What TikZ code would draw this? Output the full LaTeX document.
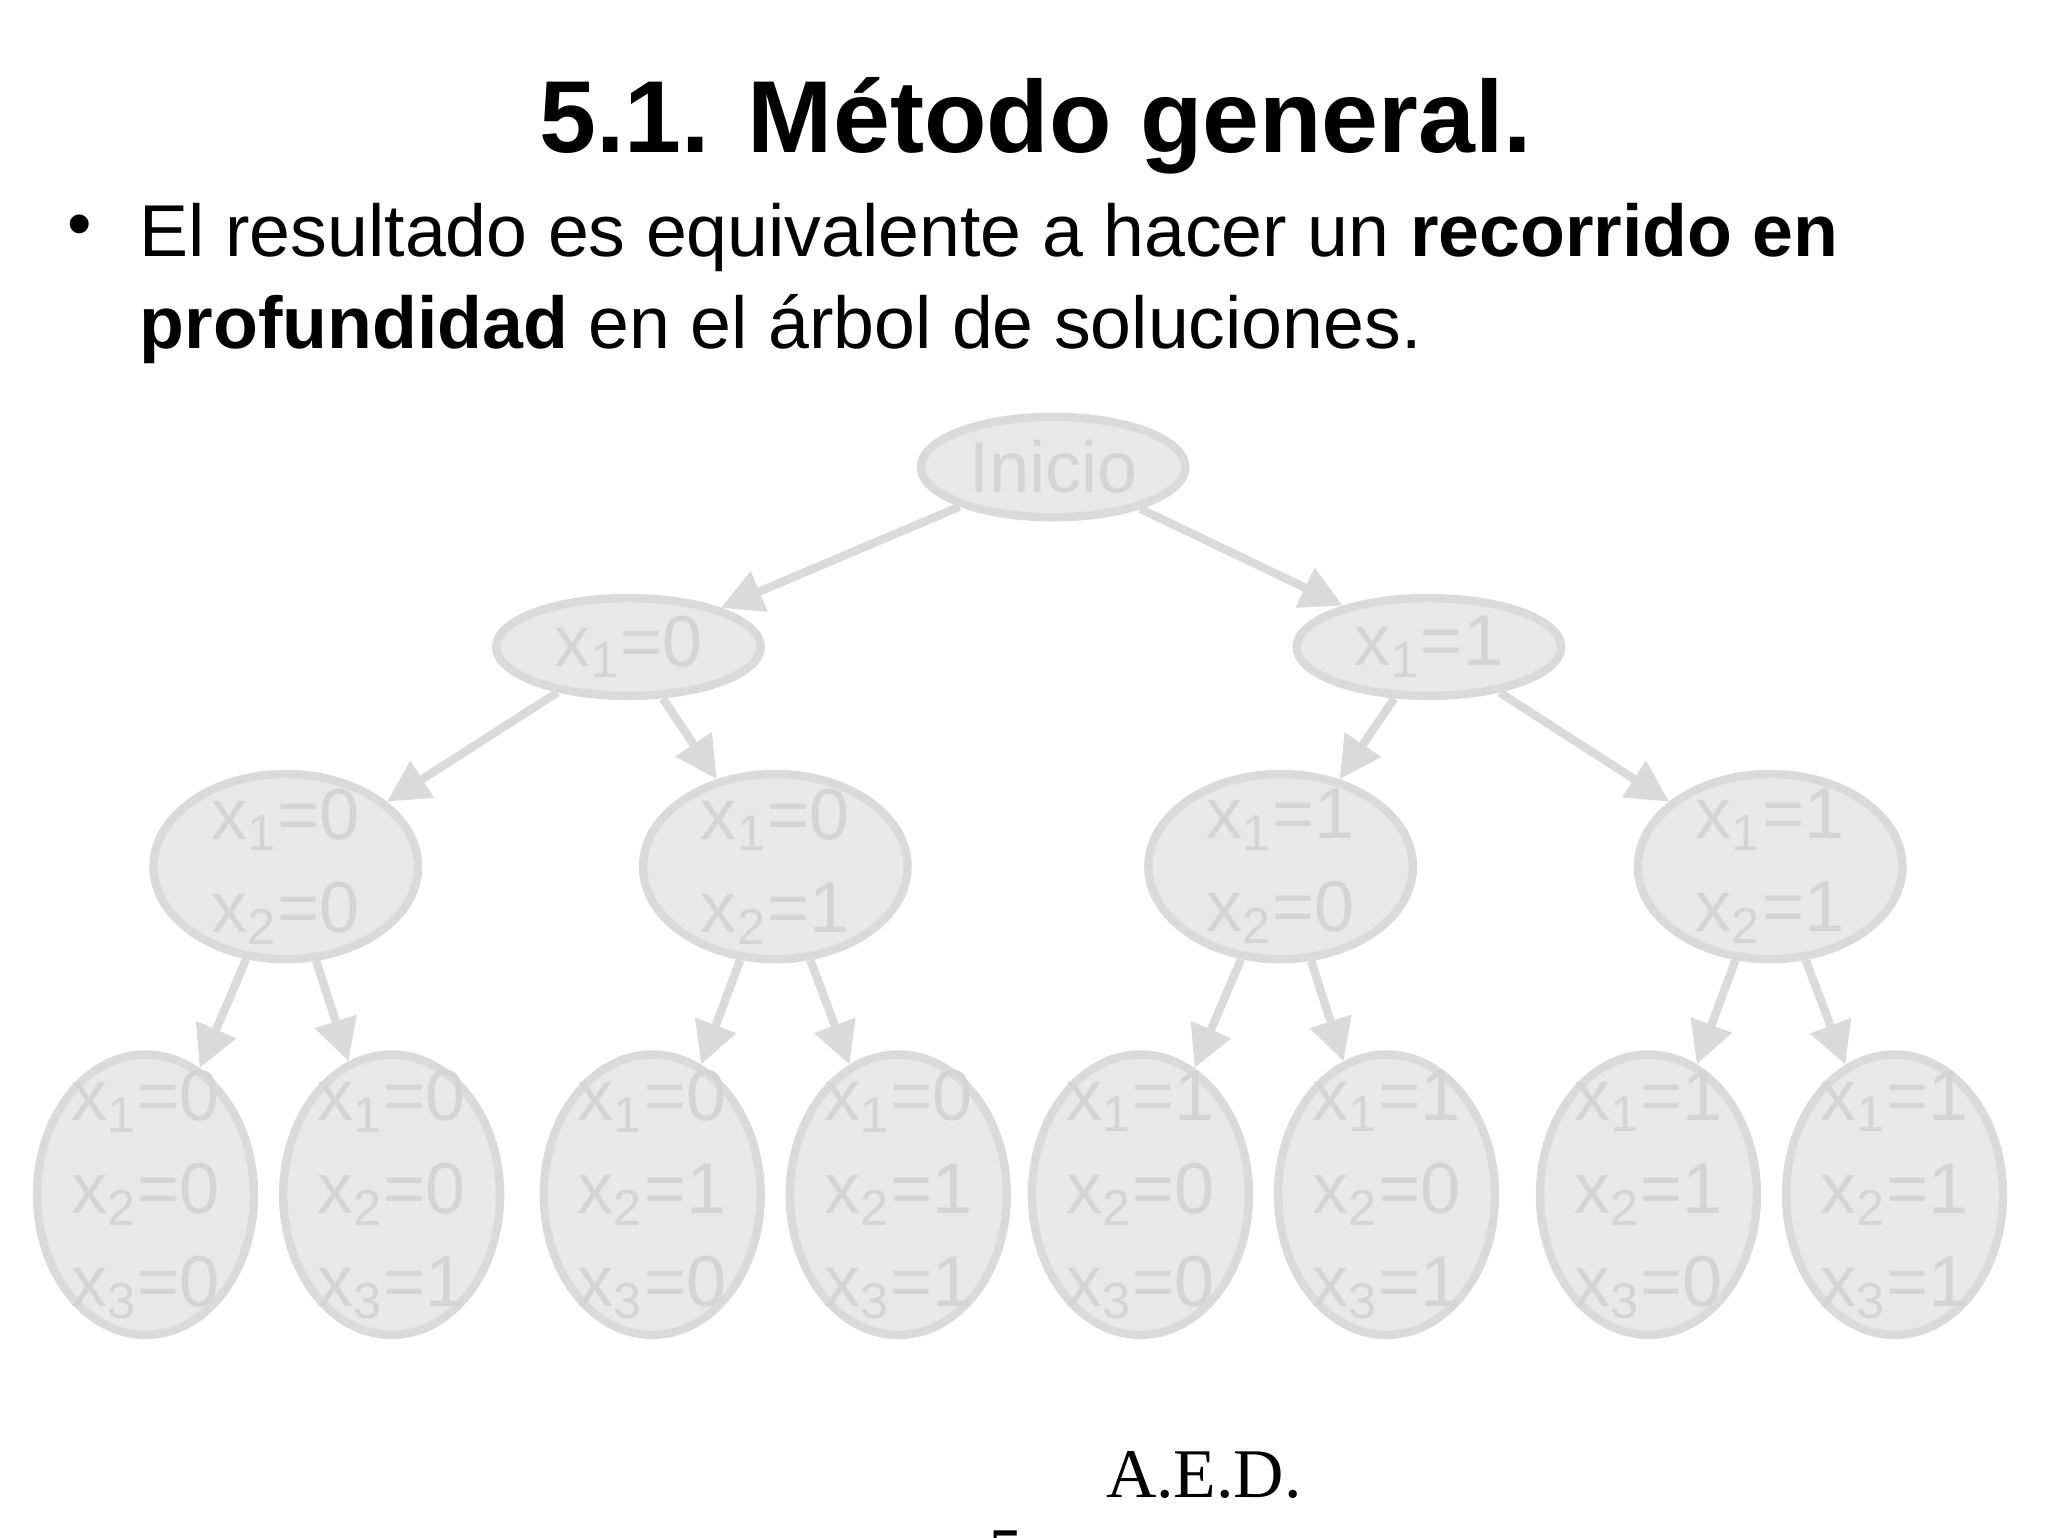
\documentclass[tikz,border=0pt]{standalone}
\usepackage{fontspec}
\setmainfont{Liberation Sans}
\newfontfamily\serifff{Liberation Serif}
\usetikzlibrary{shapes.geometric,arrows.meta}
\definecolor{nfill}{RGB}{232,232,232}
\definecolor{nline}{RGB}{218,218,218}
\definecolor{ntext}{RGB}{212,212,212}
\tikzset{
 tn/.style={ellipse,fill=nfill,draw=nline,line width=1.8pt,text=ntext,inner sep=0pt,
  font=\fontsize{15.5pt}{20pt}\selectfont,align=center},
 e/.style={draw=nline,line width=1.8pt,-{Triangle[length=9pt,width=9pt]}}
}
\newcommand{\xs}[2]{x\textsubscript{#1}=#2}
\begin{document}
\begin{tikzpicture}[x=1cm,y=1cm]
\useasboundingbox (0,0) rectangle (15.48,-11.62);
\node[font=\fontsize{22pt}{26pt}\selectfont\bfseries] (title) at (7.83,-0.95) {5.1. Método general.};
\node[font=\fontsize{15pt}{18pt}\selectfont] (bul) at (0.6,-1.75) {•};
\node[anchor=north west,font=\fontsize{15.8pt}{19.8pt}\selectfont,align=left,inner sep=0pt] (txt) at (1.05,-1.53)
 {El resultado es equivalente a hacer un \textbf{recorrido en}\\\textbf{profundidad} en el árbol de soluciones.};
\node[tn,minimum width=2.0cm,minimum height=0.76cm] (r) at (7.96,-3.53) {Inicio};
\node[tn,minimum width=2.0cm,minimum height=0.74cm,inner sep=-0.1cm] (a) at (4.75,-4.89) {\xs10};
\node[tn,minimum width=2.0cm,minimum height=0.74cm,inner sep=-0.1cm] (b) at (10.80,-4.89) {\xs11};
\foreach \n/\x/\p/\q in {aa/2.16/0/0,ab/5.86/0/1,ba/9.68/1/0,bb/13.38/1/1}
 \node[tn,minimum width=2.0cm,minimum height=1.4cm,inner sep=-0.2cm] (\n) at (\x,-6.55) {\xs1\p\\\xs2\q};
\foreach \n/\x/\p/\q/\s in {aaa/1.10/0/0/0,aab/2.96/0/0/1,aba/4.93/0/1/0,abb/6.79/0/1/1,baa/8.62/1/0/0,bab/10.48/1/0/1,bba/12.46/1/1/0,bbb/14.32/1/1/1}
 \node[tn,minimum width=1.64cm,minimum height=2.12cm,inner sep=-0.27cm] (\n) at (\x,-9.03) {\xs1\p\\\xs2\q\\\xs3\s};
\draw[e] (r) -- (a); \draw[e] (r) -- (b);
\draw[e] (a) -- (aa); \draw[e] (a) -- (ab);
\draw[e] (b) -- (ba); \draw[e] (b) -- (bb);
\foreach \p in {aa,ab,ba,bb}{\draw[e] (\p) -- (\p a); \draw[e] (\p) -- (\p b);}
\node[font=\serifff\fontsize{15pt}{18pt}\selectfont] (aed) at (9.10,-11.15) {A.E.D.};
\node[anchor=north,font=\serifff\fontsize{15pt}{18pt}\selectfont] (pg) at (7.60,-11.45) {5};
\end{tikzpicture}
\end{document}
